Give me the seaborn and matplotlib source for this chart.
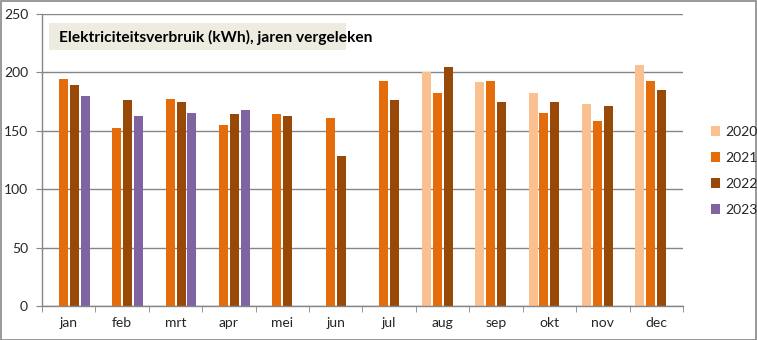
import numpy as np
import pandas as pd
import seaborn as sns
import matplotlib.pyplot as plt
from matplotlib.patches import Rectangle, Patch

months = ["jan", "feb", "mrt", "apr", "mei", "jun", "jul", "aug", "sep", "okt", "nov", "dec"]
years = ["2020", "2021", "2022", "2023"]
v2020 = [np.nan, np.nan, np.nan, np.nan, np.nan, np.nan, np.nan, 200, 192, 182, 173, 206]
v2021 = [194, 152, 177, 155, 164, 161, 193, 182, 193, 165, 158, 193]
v2022 = [189, 176, 175, 164, 163, 128, 176, 205, 175, 175, 171, 185]
v2023 = [180, 163, 165, 168, np.nan, np.nan, np.nan, np.nan, np.nan, np.nan, np.nan, np.nan]
title = "Elektriciteitsverbruik (kWh), jaren vergeleken"
colors = ["#FAC090", "#E46C0A", "#984807", "#8064A2"]

rows = []
for y, vals in zip(years, [v2020, v2021, v2022, v2023]):
    for m, v in zip(months, vals):
        rows.append({"maand": m, "jaar": y, "kWh": v})
df = pd.DataFrame(rows)

sns.set_style("white")
plt.rcParams["font.family"] = ["Lato", "DejaVu Sans"]

fig = plt.figure(figsize=(7.57, 3.4), dpi=100)
ax = fig.add_axes([42 / 757, 34 / 340, (683 - 42) / 757, (306 - 14) / 340])

sns.barplot(data=df, x="maand", y="kWh", hue="jaar", order=months, hue_order=years,
            palette=colors, width=0.82, gap=0.18, ax=ax, legend=False,
            saturation=1, linewidth=0, err_kws={"linewidth": 0})

ax.set_xlim(-0.5, 11.5)
ax.set_ylim(0, 250)
ax.set_yticks([0, 50, 100, 150, 200, 250])
ax.yaxis.grid(True, color="#868686", linewidth=1)
ax.set_axisbelow(True)
ax.set_xlabel("")
ax.set_ylabel("")
for s in ["top", "right"]:
    ax.spines[s].set_visible(False)
for s in ["left", "bottom"]:
    ax.spines[s].set_color("#868686")
    ax.spines[s].set_linewidth(1)
ax.tick_params(axis="y", length=4, color="#868686", direction="out", labelsize=10, pad=6, left=True)
ax.set_xticks(np.arange(12))
ax.set_xticklabels(months)
ax.tick_params(axis="x", length=0, labelsize=10, pad=8)
ax.set_xticks(np.arange(-0.5, 12, 1), minor=True)
ax.tick_params(axis="x", which="minor", length=4, color="#868686", direction="out", bottom=True)

fig.text(59 / 757, 1 - 37 / 340, title, fontsize=11.2, fontweight="bold", va="center", ha="left",
         color="#000000")
fig.patches.append(Rectangle((49 / 757, 1 - 50 / 340), (346 - 49) / 757, 27 / 340,
                             transform=fig.transFigure, facecolor="#EEECE1", edgecolor="none", zorder=2))
for t in fig.texts:
    t.set_zorder(3)

handles = [Patch(facecolor=c, edgecolor="none") for c in colors]
fig.legend(handles, years, loc="center left", bbox_to_anchor=(698 / 757, 1 - 171 / 340),
           frameon=False, fontsize=10, handlelength=0.7, handleheight=0.7, handletextpad=0.4,
           labelspacing=1.0)

fig.patches.append(Rectangle((0.5 / 757, 0.5 / 340), 755.5 / 757, 338.5 / 340, transform=fig.transFigure,
                             facecolor="none", edgecolor="#878787", linewidth=1.2, zorder=5))

fig.savefig("out.png", dpi=100)
